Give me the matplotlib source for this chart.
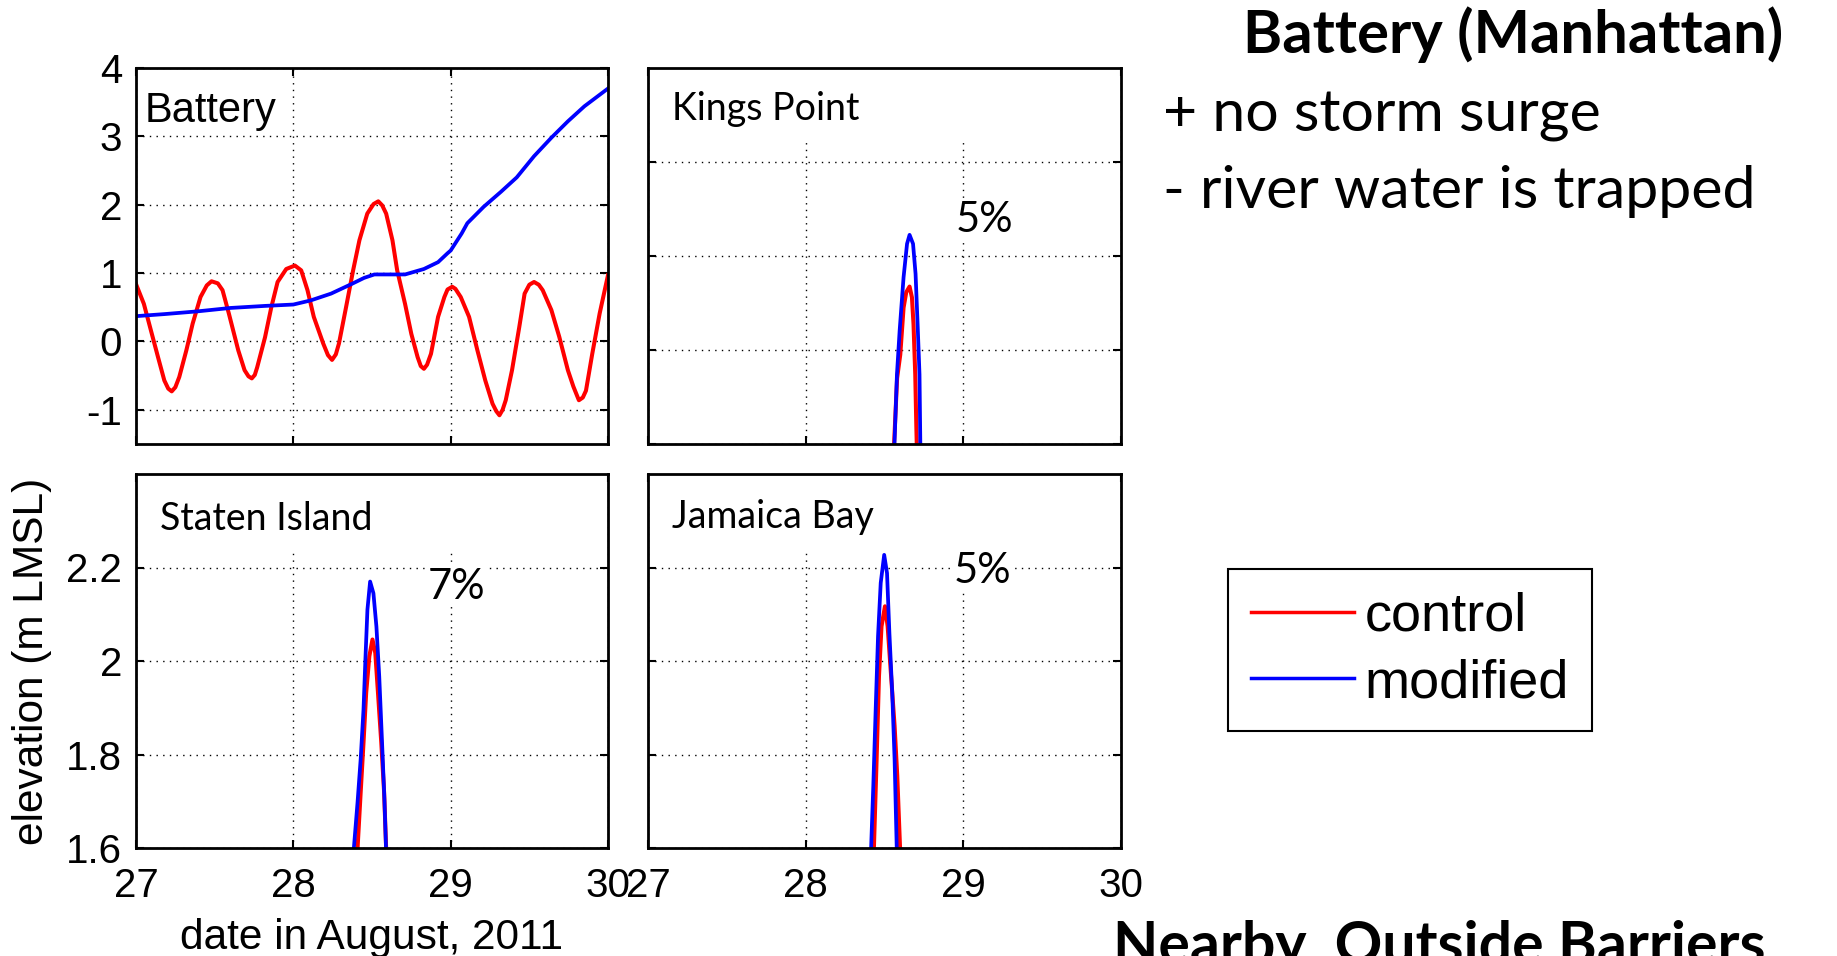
import matplotlib
matplotlib.use('Agg')
import matplotlib.pyplot as plt
from matplotlib.lines import Line2D
from matplotlib.ticker import FuncFormatter

plt.rcParams['axes.unicode_minus'] = False
plt.rcParams['font.family'] = ['Liberation Sans', 'DejaVu Sans']

#------------------------------------------------------
# DATA: (day of August 2011, elevation m LMSL)
battery_control = [
    (27.00, 0.84), (27.05, 0.55), (27.095, 0.16), (27.14, -0.23), (27.18, -0.57),
    (27.205, -0.69), (27.227, -0.73), (27.25, -0.67), (27.275, -0.52), (27.32, -0.13),
    (27.36, 0.26), (27.41, 0.65), (27.45, 0.82), (27.48, 0.88), (27.52, 0.85),
    (27.55, 0.75), (27.59, 0.41), (27.65, -0.13), (27.69, -0.42), (27.715, -0.51),
    (27.736, -0.54), (27.755, -0.49), (27.77, -0.38), (27.82, 0.06), (27.86, 0.50),
    (27.90, 0.87), (27.955, 1.06), (28.01, 1.11), (28.05, 1.04), (28.09, 0.75),
    (28.13, 0.36), (28.19, -0.03), (28.22, -0.20), (28.246, -0.27), (28.27, -0.19),
    (28.29, -0.03), (28.335, 0.50), (28.38, 1.04), (28.42, 1.48), (28.47, 1.87),
    (28.51, 2.01), (28.54, 2.05), (28.565, 1.99), (28.59, 1.87), (28.63, 1.48),
    (28.66, 1.04), (28.71, 0.55), (28.75, 0.11), (28.79, -0.23), (28.81, -0.36),
    (28.83, -0.40), (28.85, -0.34), (28.875, -0.18), (28.92, 0.36), (28.96, 0.65),
    (28.98, 0.76), (29.01, 0.80), (29.03, 0.77), (29.064, 0.65), (29.117, 0.36),
    (29.17, -0.13), (29.22, -0.57), (29.266, -0.91), (29.29, -1.02), (29.31, -1.08),
    (29.33, -1.00), (29.35, -0.86), (29.39, -0.42), (29.436, 0.21), (29.47, 0.70),
    (29.50, 0.83), (29.53, 0.87), (29.56, 0.83), (29.585, 0.75), (29.64, 0.46),
    (29.69, 0.07), (29.745, -0.42), (29.78, -0.66), (29.815, -0.86), (29.84, -0.82),
    (29.86, -0.72), (29.90, -0.18), (29.947, 0.41), (30.00, 0.97),
]
battery_modified = [
    (27.00, 0.37), (27.18, 0.40), (27.39, 0.44), (27.60, 0.49), (27.82, 0.52),
    (28.00, 0.54), (28.11, 0.60), (28.24, 0.70), (28.37, 0.84), (28.45, 0.93),
    (28.515, 0.98), (28.71, 0.98), (28.83, 1.06), (28.92, 1.16), (28.98, 1.29),
    (29.00, 1.33), (29.07, 1.58), (29.106, 1.73), (29.21, 1.97), (29.32, 2.19),
    (29.42, 2.40), (29.53, 2.71), (29.64, 2.98), (29.745, 3.22), (29.85, 3.44),
    (30.00, 3.70),
]
kings_control = [
    (28.558, 1.58), (28.580, 1.74), (28.600, 1.79), (28.621, 1.89), (28.638, 1.923),
    (28.659, 1.935), (28.674, 1.912), (28.684, 1.855), (28.695, 1.748), (28.702, 1.635),
    (28.706, 1.58),
]
kings_modified = [
    (28.561, 1.58), (28.579, 1.748), (28.596, 1.841), (28.621, 1.955), (28.643, 2.026),
    (28.659, 2.045), (28.681, 2.026), (28.697, 1.962), (28.710, 1.855), (28.722, 1.748),
    (28.728, 1.58),
]
staten_control = [
    (28.405, 1.58), (28.428, 1.719), (28.446, 1.825), (28.463, 1.932), (28.483, 2.010),
    (28.503, 2.046), (28.521, 2.017), (28.538, 1.932), (28.559, 1.825), (28.577, 1.719),
    (28.592, 1.58),
]
staten_modified = [
    (28.380, 1.58), (28.408, 1.697), (28.428, 1.790), (28.446, 1.896), (28.458, 2.003),
    (28.471, 2.110), (28.488, 2.170), (28.509, 2.145), (28.528, 2.074), (28.546, 1.967),
    (28.564, 1.825), (28.579, 1.704), (28.591, 1.58),
]
jamaica_control = [
    (28.431, 1.58), (28.450, 1.790), (28.465, 1.967), (28.481, 2.074), (28.503, 2.117),
    (28.520, 2.074), (28.542, 1.967), (28.564, 1.861), (28.581, 1.754), (28.601, 1.58),
]
jamaica_modified = [
    (28.413, 1.58), (28.429, 1.733), (28.444, 1.896), (28.459, 2.053), (28.476, 2.167),
    (28.498, 2.227), (28.516, 2.188), (28.531, 2.060), (28.549, 1.932), (28.564, 1.790),
    (28.579, 1.58),
]

days = [27, 28, 29, 30]
battery_ticks = [-1, 0, 1, 2, 3, 4]
peak_ticks = [1.6, 1.8, 2.0, 2.2]

stations = ['Battery', 'Kings Point', 'Staten Island', 'Jamaica Bay']
increase = ['', '5%', '7%', '5%']
increase_pos = [None, (28.95, 2.076), (28.855, 2.158), (28.94, 2.192)]
label_y = [0.886, 0.89, 0.879, 0.885]
mask_bottom = [None, 2.24, 2.23, 2.24]

FW, FH = 1837, 956

def px(x0, y0, x1, y1):
    # pixel box (top-left origin) -> figure fraction rect
    return [x0 / FW, 1 - y1 / FH, (x1 - x0) / FW, (y1 - y0) / FH]

fig = plt.figure(figsize=(FW / 100, FH / 100), dpi=100)

boxes = [px(136, 68, 608, 444), px(648, 68, 1121, 444),
         px(136, 474, 608, 848), px(648, 474, 1121, 848)]
series = [(battery_control, battery_modified), (kings_control, kings_modified),
          (staten_control, staten_modified), (jamaica_control, jamaica_modified)]

gridstyle = (0, (1, 3.8))
axes = []
for i, box in enumerate(boxes):
    ax = fig.add_axes(box)
    axes.append(ax)
    ctl, mod = series[i]
    ax.plot([p[0] for p in ctl], [p[1] for p in ctl], color='red', lw=2.9, zorder=2)
    ax.plot([p[0] for p in mod], [p[1] for p in mod], color='blue', lw=2.7, zorder=2)

    ax.set_xlim(27, 30)
    ax.set_xticks(days)
    if i == 0:
        ax.set_ylim(-1.5, 4)
        ax.set_yticks(battery_ticks)
    else:
        ax.set_ylim(1.6, 2.4)
        ax.set_yticks(peak_ticks)
    ax.yaxis.set_major_formatter(FuncFormatter(lambda v, p: '%g' % v))

    ax.set_axisbelow(True)
    ax.grid(True, color='black', linestyle=gridstyle, linewidth=1.0)
    ax.tick_params(direction='in', top=True, right=True, length=6, width=1.5,
                   labelsize=29, pad=10)
    ax.tick_params(axis='x', pad=14)
    if i < 2:
        ax.tick_params(labelbottom=False)
    if i % 2 == 1:
        ax.tick_params(labelleft=False)
    for s in ax.spines.values():
        s.set_linewidth(2.0)

    if i == 0:
        ax.text(0.019, label_y[i], stations[i], transform=ax.transAxes, fontsize=30,
                ha='left', va='center')
    else:
        # pasted label boxes hide the grid near the top
        ax.axhspan(mask_bottom[i], 2.4, xmin=0.006, xmax=0.994, facecolor='white',
                   edgecolor='none', zorder=1)
        ax.text(0.05, label_y[i], stations[i], transform=ax.transAxes, fontsize=27,
                family='Lato', ha='left', va='center', zorder=3)
        tx, ty = increase_pos[i]
        ax.text(tx, ty, increase[i], fontsize=30, family='Lato', ha='left', va='center',
                zorder=3, bbox=dict(facecolor='white', edgecolor='none', pad=1))

axes[2].set_ylabel('elevation (m LMSL)', fontsize=30.5, labelpad=10)
axes[2].set_xlabel('date in August, 2011', fontsize=30.5, labelpad=9)

# legend
h_ctl = Line2D([], [], color='red', lw=2.5)
h_mod = Line2D([], [], color='blue', lw=2.5)
leg = fig.legend([h_ctl, h_mod], ['control', 'modified'], loc='upper left',
                 bbox_to_anchor=(1228 / FW, 1 - 569 / FH), bbox_transform=fig.transFigure,
                 fancybox=False, edgecolor='black', framealpha=1, fontsize=39,
                 handlelength=1.9, handletextpad=0.2, borderpad=0.42, labelspacing=0.3,
                 borderaxespad=0)
leg.get_frame().set_linewidth(1.5)

# side notes
fig.text(1783 / FW, 1 - 35 / FH, 'Battery (Manhattan)', fontsize=43, weight='bold',
         family='Lato', ha='right', va='center')
fig.text(1163 / FW, 1 - 116 / FH, '+ no storm surge', fontsize=42.5, family='Lato',
         ha='left', va='center')
fig.text(1163 / FW, 1 - 191 / FH, '- river water is trapped', fontsize=42.5, family='Lato',
         ha='left', va='center')
fig.text(1113 / FW, 1 - 920 / FH, 'Nearby, Outside Barriers', fontsize=42.5, weight='bold',
         family='Lato', ha='left', va='top')

fig.savefig('out.png', dpi=100)
